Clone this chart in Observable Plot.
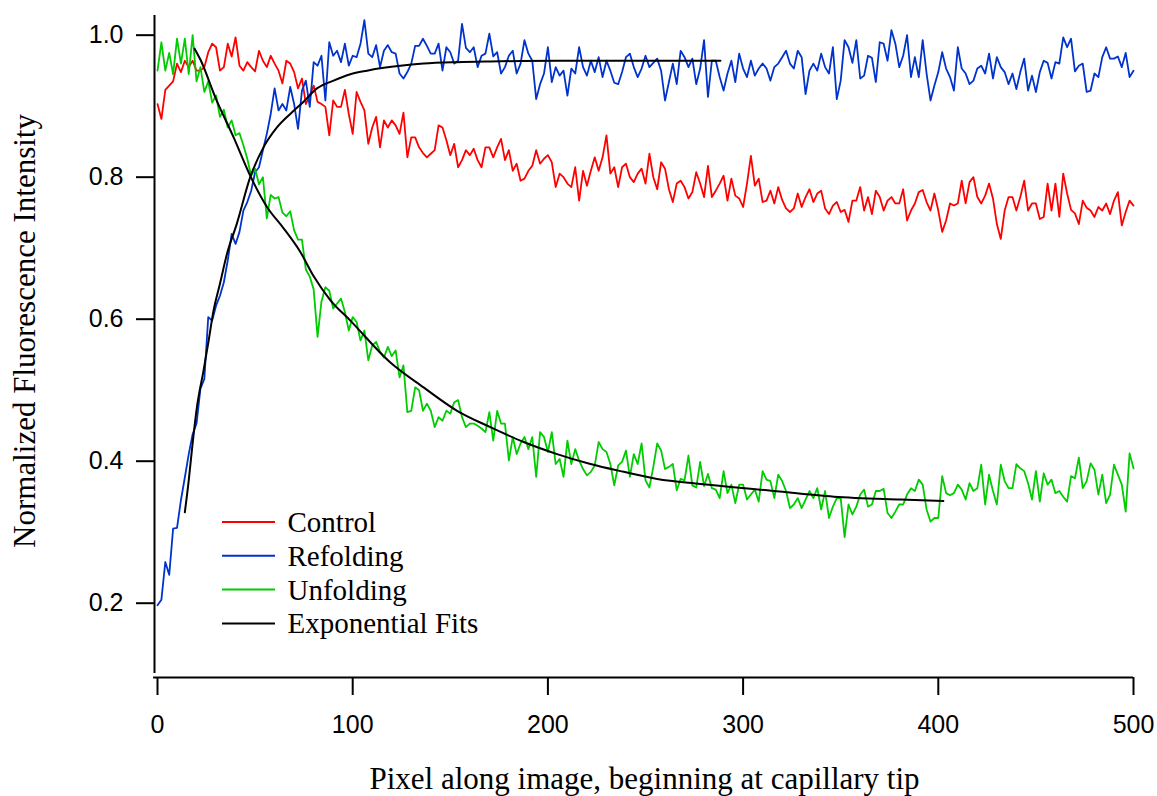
<!DOCTYPE html>
<html>
<head>
<meta charset="utf-8">
<script src="https://cdn.jsdelivr.net/npm/d3@7"></script>
<script src="https://cdn.jsdelivr.net/npm/@observablehq/plot@0.6"></script>
<style>
  html, body { margin: 0; padding: 0; background: #fff; }
  #chart { width: 1157px; height: 796px; }
</style>
</head>
<body>
<div id="chart"></div>
<script>
const pixelStep = 2;

const control = [
0.903,0.882,0.923,0.929,0.935,0.960,0.948,0.964,0.955,0.964,
0.950,0.950,0.955,0.976,0.988,0.983,0.950,0.955,0.988,0.970,
0.997,0.957,0.950,0.962,0.955,0.949,0.978,0.964,0.955,0.971,
0.960,0.950,0.932,0.964,0.960,0.948,0.925,0.939,0.903,0.915,
0.929,0.906,0.903,0.899,0.859,0.908,0.899,0.899,0.923,0.889,
0.861,0.920,0.906,0.894,0.847,0.870,0.885,0.842,0.880,0.870,
0.880,0.873,0.861,0.891,0.828,0.856,0.856,0.842,0.834,0.828,
0.833,0.838,0.873,0.870,0.852,0.831,0.847,0.814,0.824,0.838,
0.831,0.840,0.824,0.814,0.842,0.842,0.828,0.842,0.854,0.824,
0.838,0.809,0.819,0.795,0.798,0.809,0.816,0.838,0.819,0.826,
0.831,0.821,0.786,0.805,0.800,0.791,0.786,0.814,0.767,0.809,
0.788,0.809,0.828,0.809,0.828,0.859,0.805,0.814,0.786,0.814,
0.819,0.800,0.793,0.805,0.812,0.791,0.833,0.800,0.783,0.821,
0.812,0.783,0.765,0.791,0.795,0.786,0.770,0.779,0.807,0.791,
0.772,0.816,0.772,0.781,0.791,0.802,0.767,0.798,0.774,0.770,
0.758,0.791,0.830,0.788,0.798,0.765,0.767,0.781,0.763,0.786,
0.768,0.756,0.751,0.756,0.777,0.758,0.772,0.783,0.765,0.777,
0.781,0.756,0.748,0.760,0.765,0.751,0.754,0.737,0.767,0.767,
0.786,0.753,0.772,0.748,0.781,0.772,0.753,0.767,0.772,0.763,
0.763,0.783,0.739,0.753,0.763,0.779,0.782,0.765,0.753,0.777,
0.753,0.723,0.739,0.763,0.760,0.763,0.795,0.763,0.793,0.800,
0.772,0.763,0.774,0.791,0.770,0.734,0.713,0.753,0.772,0.772,
0.753,0.772,0.795,0.753,0.763,0.763,0.741,0.744,0.791,0.753,
0.791,0.744,0.805,0.777,0.754,0.749,0.734,0.767,0.757,0.753,
0.744,0.758,0.753,0.763,0.748,0.767,0.779,0.732,0.751,0.767,
0.760
];

const refolding = [
0.197,0.205,0.258,0.240,0.305,0.306,0.345,0.377,0.410,0.438,
0.453,0.502,0.516,0.603,0.598,0.619,0.633,0.652,0.683,0.720,
0.706,0.723,0.753,0.765,0.781,0.807,0.814,0.838,0.861,0.889,
0.925,0.894,0.903,0.894,0.927,0.903,0.868,0.922,0.936,0.899,
0.962,0.957,0.971,0.908,0.990,0.971,0.978,0.962,0.988,0.957,
0.971,0.969,0.988,1.021,0.974,0.969,0.986,0.955,0.978,0.986,
0.976,0.974,0.946,0.939,0.948,0.960,0.985,0.985,0.995,0.985,
0.974,0.974,0.988,0.950,0.983,0.976,0.960,0.964,1.016,0.982,
0.976,0.983,0.955,0.971,0.974,1.002,0.970,0.976,0.946,0.955,
0.971,0.978,0.946,0.960,0.993,0.974,0.964,0.910,0.931,0.946,
0.983,0.934,0.955,0.943,0.950,0.915,0.953,0.946,0.983,0.955,
0.943,0.964,0.948,0.969,0.941,0.964,0.950,0.933,0.931,0.948,
0.969,0.974,0.955,0.941,0.953,0.971,0.955,0.961,0.967,0.950,
0.908,0.934,0.960,0.931,0.978,0.969,0.955,0.967,0.931,0.953,
0.993,0.913,0.964,0.964,0.941,0.922,0.946,0.964,0.934,0.974,
0.953,0.941,0.964,0.943,0.953,0.960,0.953,0.936,0.955,0.960,
0.969,0.978,0.960,0.953,0.978,0.969,0.917,0.950,0.960,0.950,
0.974,0.955,0.946,0.983,0.910,0.936,0.993,0.983,0.961,0.993,
0.939,0.943,0.971,0.968,0.934,0.990,0.988,0.964,1.007,0.988,
0.955,0.971,1.000,0.941,0.969,0.941,0.993,0.946,0.908,0.929,
0.948,0.976,0.953,0.941,0.922,0.983,0.953,0.946,0.931,0.936,
0.953,0.957,0.946,0.974,0.939,0.969,0.955,0.948,0.931,0.946,
0.924,0.948,0.967,0.922,0.943,0.920,0.948,0.964,0.961,0.939,
0.962,0.960,0.997,0.983,0.995,0.949,0.957,0.960,0.920,0.922,
0.946,0.941,0.969,0.983,0.967,0.967,0.970,0.955,0.975,0.941,
0.950
];

const unfolding = [
0.950,0.990,0.950,0.975,0.945,0.995,0.960,0.995,0.945,1.000,
0.935,0.955,0.920,0.935,0.905,0.915,0.885,0.895,0.870,0.880,
0.859,0.862,0.845,0.826,0.802,0.812,0.790,0.800,0.742,0.775,
0.770,0.772,0.750,0.745,0.752,0.725,0.712,0.712,0.670,0.660,
0.642,0.575,0.625,0.645,0.640,0.615,0.622,0.629,0.610,0.584,
0.603,0.596,0.570,0.584,0.542,0.563,0.568,0.554,0.546,0.561,
0.548,0.556,0.518,0.535,0.469,0.471,0.504,0.500,0.471,0.481,
0.471,0.448,0.462,0.457,0.471,0.467,0.483,0.486,0.462,0.448,
0.453,0.453,0.450,0.446,0.441,0.469,0.429,0.471,0.453,0.453,
0.401,0.434,0.410,0.425,0.434,0.417,0.434,0.378,0.441,0.434,
0.413,0.441,0.396,0.403,0.378,0.429,0.396,0.417,0.401,0.389,
0.380,0.385,0.394,0.427,0.417,0.413,0.396,0.366,0.394,0.399,
0.415,0.378,0.410,0.396,0.425,0.373,0.363,0.392,0.425,0.415,
0.389,0.392,0.396,0.359,0.375,0.373,0.408,0.366,0.363,0.399,
0.365,0.382,0.362,0.360,0.348,0.386,0.355,0.367,0.341,0.367,
0.367,0.346,0.353,0.360,0.343,0.386,0.374,0.372,0.348,0.381,
0.372,0.358,0.334,0.339,0.348,0.334,0.346,0.358,0.348,0.362,
0.332,0.358,0.320,0.336,0.348,0.348,0.293,0.339,0.325,0.336,
0.353,0.360,0.336,0.339,0.358,0.358,0.361,0.327,0.320,0.329,
0.339,0.339,0.353,0.362,0.358,0.374,0.367,0.332,0.315,0.320,
0.320,0.379,0.355,0.352,0.355,0.367,0.360,0.346,0.369,0.358,
0.362,0.395,0.339,0.381,0.358,0.339,0.395,0.372,0.362,0.362,
0.396,0.390,0.386,0.369,0.346,0.386,0.343,0.383,0.367,0.374,
0.355,0.358,0.350,0.343,0.379,0.376,0.405,0.362,0.372,0.397,
0.388,0.353,0.381,0.341,0.353,0.395,0.381,0.367,0.329,0.411,
0.390
];

// exponential fit curves, read as points along the black curves
const refoldFitX = [14, 16, 17.6, 20.2, 23.6, 26.2, 28.7, 32, 35.6, 40.7, 47.5, 54.3, 61.2, 68, 74.7, 81.7, 90.2, 98.8, 107.3, 115.9, 124.4, 136.3, 153.5, 170.5, 204.7, 252.5, 288.4];
const refoldFitY = [0.328, 0.373, 0.415, 0.476, 0.528, 0.570, 0.612, 0.650, 0.692, 0.735, 0.800, 0.842, 0.870, 0.889, 0.906, 0.925, 0.936, 0.945, 0.950, 0.954, 0.957, 0.960, 0.962, 0.963, 0.964, 0.964, 0.964];
const unfoldFitX = [19, 21.9, 30, 39, 47.5, 56.1, 64.6, 73.1, 80.1, 88.5, 98.8, 119.3, 136.3, 153.5, 170.5, 187.6, 204.7, 221.8, 238.9, 256, 278.2, 312.4, 346.5, 380.7, 402.6];
const unfoldFitY = [0.981, 0.966, 0.910, 0.856, 0.802, 0.758, 0.728, 0.695, 0.660, 0.627, 0.598, 0.539, 0.504, 0.471, 0.448, 0.427, 0.410, 0.396, 0.385, 0.375, 0.368, 0.359, 0.350, 0.346, 0.344];

const xTicks = [0, 100, 200, 300, 400, 500];
const yTicks = [0.2, 0.4, 0.6, 0.8, 1.0];
const legendNames = ["Control", "Refolding", "Unfolding", "Exponential Fits"];
const legendColors = ["#ff0000", "#0033cc", "#00cc00", "#000000"];
const xTitle = "Pixel along image, beginning at capillary tip";
const yTitle = "Normalized Fluorescence Intensity";

// ---- build tables ----
const toRows = (vals, name) => vals.map((v, i) => ({series: name, x: i * pixelStep, y: v}));
const controlRows = toRows(control, "Control");
const refoldRows = toRows(refolding, "Refolding");
const unfoldRows = toRows(unfolding, "Unfolding");
const fitRows = [
  ...refoldFitX.map((x, i) => ({fit: "refold", x, y: refoldFitY[i]})),
  ...unfoldFitX.map((x, i) => ({fit: "unfold", x, y: unfoldFitY[i]}))
];

const xDomain = [0, 500];
const yDomain = [0.101, 1.0277];

const plot = Plot.plot({
  width: 1157,
  height: 796,
  marginLeft: 157,
  marginRight: 24,
  marginTop: 15,
  marginBottom: 123,
  x: {domain: xDomain},
  y: {domain: yDomain},
  style: {
    fontFamily: "'Liberation Sans', Arial, sans-serif",
    fontSize: "25px",
    color: "#000",
    background: "#fff",
    overflow: "visible"
  },
  marks: [
    Plot.line(controlRows, {x: "x", y: "y", stroke: legendColors[0], strokeWidth: 1.8}),
    Plot.line(refoldRows, {x: "x", y: "y", stroke: legendColors[1], strokeWidth: 1.8}),
    Plot.line(unfoldRows, {x: "x", y: "y", stroke: legendColors[2], strokeWidth: 1.8}),
    Plot.line(fitRows, {x: "x", y: "y", z: "fit", stroke: legendColors[3], strokeWidth: 2, curve: "monotone-x"}),
    Plot.ruleX([xDomain[0]], {dx: -3, stroke: "#000", strokeWidth: 2}),
    Plot.ruleY([yDomain[0]], {x1: -2, x2: xDomain[1], dy: 4, stroke: "#000", strokeWidth: 2}),
    Plot.axisX({ticks: xTicks, tickSize: 18, tickPadding: 20, dy: 4, label: null, strokeWidth: 2, tickFormat: d => String(d)}),
    Plot.axisY({ticks: yTicks, tickSize: 18, tickPadding: 13, dx: -3, label: null, strokeWidth: 2, tickFormat: d3.format(".1f")})
  ]
});

document.getElementById("chart").appendChild(plot);

// ---- titles and legend ----
const svg = d3.select(plot);
const serif = "'Liberation Serif', 'Times New Roman', serif";

svg.append("text")
  .attr("x", 644.5).attr("y", 789)
  .attr("text-anchor", "middle")
  .attr("font-family", serif).attr("font-size", 31).attr("fill", "#000")
  .text(xTitle);

svg.append("text")
  .attr("transform", "translate(35,331) rotate(-90)")
  .attr("text-anchor", "middle")
  .attr("font-family", serif).attr("font-size", 31).attr("fill", "#000")
  .text(yTitle);

const legend = svg.append("g").attr("transform", "translate(222,522)");
legendNames.forEach((name, i) => {
  const row = legend.append("g").attr("transform", `translate(0,${i * 33.8})`);
  row.append("line").attr("x1", 0).attr("x2", 53).attr("y1", 0).attr("y2", 0)
    .attr("stroke", legendColors[i]).attr("stroke-width", 2);
  row.append("text").attr("x", 65.5).attr("y", 10)
    .attr("text-anchor", "start")
    .attr("font-family", serif).attr("font-size", 29).attr("fill", "#000")
    .text(name);
});
</script>
</body>
</html>
